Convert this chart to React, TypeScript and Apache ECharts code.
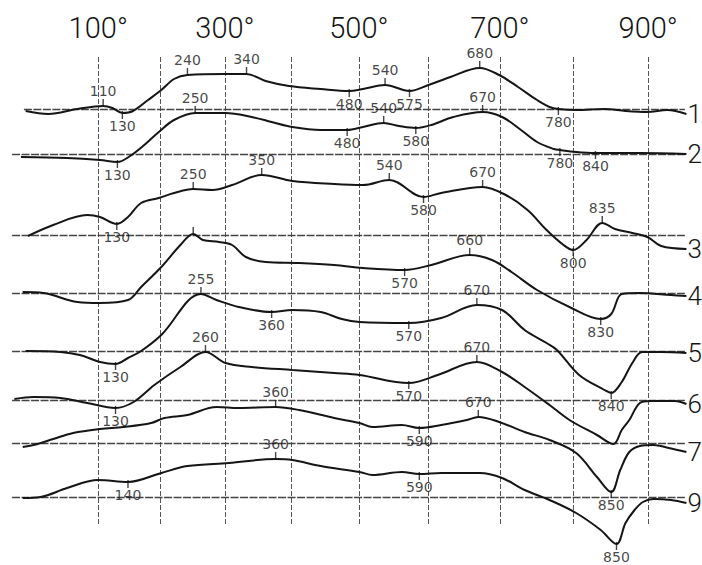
import React, { useEffect, useRef } from "react";
import * as echarts from "echarts";

// Curve numbers (written at the right end of each trace)
const curveLabels = ["1", "2", "3", "4", "5", "6", "7", "9"];
// Base level of each trace (arbitrary ΔT units, counted from the bottom)
const baselineLevels = [456, 411, 330, 272, 214, 165, 122, 68];
const baselineStarts = [-23, -43, -43, -43, -43, -43, -43, -43];
const baselineEnd = 948;
// Temperature grid (°C) and the labelled ones
const gridTemps = [100, 200, 300, 400, 500, 600, 700, 800, 900];
const tickLabelTemps = [100, 300, 500, 700, 900];
const gridTopLevel = 508;
const gridBottomLevel = 40;

// [temperature °C, deflection]
const curve1 = [[-20,-2],[18,-5],[66,0],[108,3],[123,1],[139,-4],[156,-2],[180,9],[201,19],[221,30],[242,34],[301,35],[333,35],[362,28],[397,23],[444,20],[486,18],[506,20],[538,24],[573,18],[600,24],[631,32],[672,41],[699,34],[725,22],[751,9],[768,2],[780,0],[804,-1],[842,0],[870,-2],[899,-3],[925,-1],[950,-5]];
const curve2 = [[-28,-3],[49,-4],[103,-6],[131,-8],[149,-3],[174,9],[197,22],[221,34],[254,41],[301,41],[341,37],[371,32],[402,27],[444,24],[483,24],[506,27],[536,31],[558,28],[582,26],[604,29],[635,37],[676,42],[703,37],[729,24],[751,12],[774,5],[782,4],[804,2],[830,1],[889,1],[950,0]];
const curve3 = [[-16,-1],[26,10],[82,20],[103,18],[130,11],[148,18],[169,32],[197,37],[221,42],[251,46],[281,45],[311,50],[356,60],[402,54],[464,51],[506,50],[544,55],[593,38],[618,42],[676,48],[708,40],[738,25],[764,5],[787,-10],[800,-15],[818,-5],[839,12],[856,6],[879,2],[899,-2],[917,-11],[950,-14]];
const curve4 = [[-25,1],[10,0],[66,-9],[103,-10],[148,-7],[169,6],[201,26],[231,48],[251,59],[266,53],[291,51],[311,48],[332,36],[362,31],[412,30],[464,28],[506,25],[566,23],[604,28],[658,38],[689,33],[716,21],[751,3],[795,-14],[837,-26],[851,-21],[865,-1],[889,0],[930,-2],[950,-3]];
const curve5 = [[-20,0],[38,-1],[70,-4],[103,-11],[128,-13],[148,-7],[169,0],[201,16],[263,57],[287,51],[321,44],[371,39],[402,41],[444,39],[475,32],[501,29],[572,28],[618,33],[668,46],[703,41],[734,21],[764,8],[778,1],[808,-24],[842,-39],[851,-42],[865,-31],[879,-12],[892,-1],[917,-1],[950,-2]];
const curve6 = [[-39,1],[-7,3],[38,2],[82,-3],[128,-8],[157,-2],[190,15],[231,33],[270,48],[301,37],[341,33],[402,30],[464,27],[501,25],[572,17],[613,25],[668,38],[703,28],[734,13],[768,-5],[795,-20],[832,-35],[854,-44],[865,-30],[875,-20],[889,-3],[903,-1],[935,-1],[950,-4]];
const curve7 = [[-25,-4],[0,-1],[26,4],[59,10],[103,14],[141,16],[185,20],[206,25],[242,28],[287,36],[321,35],[377,36],[412,33],[464,25],[501,20],[520,16],[562,18],[587,15],[618,18],[654,23],[670,26],[699,21],[734,11],[768,3],[804,-10],[832,-34],[851,-49],[863,-27],[875,-9],[889,-3],[907,-2],[927,-5],[950,-9]];
const curve8 = [[-25,-1],[5,0],[49,9],[100,17],[148,15],[201,24],[242,31],[306,34],[377,38],[402,37],[444,31],[501,25],[520,22],[562,25],[587,23],[618,24],[672,24],[703,19],[734,7],[768,-3],[804,-16],[837,-33],[858,-47],[870,-26],[882,-13],[893,-5],[907,-2],[930,-3],[950,-6]];

// [temperature where the tick sits, written text, 1 = above / -1 = below]
const markers1 = [[108,"110",1],[139,"130",-1],[242,"240",1],[333,"340",1],[486,"480",-1],[538,"540",1],[573,"575",-1],[672,"680",1],[780,"780",-1]];
const markers2 = [[131,"130",-1],[254,"250",1],[483,"480",-1],[536,"540",1],[582,"580",-1],[676,"670",1],[782,"780",-1],[830,"840",-1]];
const markers3 = [[130,"130",-1],[251,"250",1],[356,"350",1],[544,"540",1],[593,"580",-1],[676,"670",1],[800,"800",-1],[839,"835",1]];
const markers4 = [[251,"",1],[566,"570",-1],[658,"660",1],[837,"830",-1]];
const markers5 = [[128,"130",-1],[263,"255",1],[371,"360",-1],[572,"570",-1],[668,"670",1],[851,"840",-1]];
const markers6 = [[128,"130",-1],[270,"260",1],[572,"570",-1],[668,"670",1]];
const markers7 = [[377,"360",1],[587,"590",-1],[670,"670",1],[851,"850",-1]];
const markers8 = [[148,"140",-1],[377,"360",1],[587,"590",-1],[858,"850",-1]];

const curves = [curve1, curve2, curve3, curve4, curve5, curve6, curve7, curve8];
const markers = [markers1, markers2, markers3, markers4, markers5, markers6, markers7, markers8];

// The recorder's temperature scale is slightly non-linear (quadratic).
const K = 0.0001506;
const toU = (t: number) => t + K * t * t;
const fromU = (u: number) => (-1 + Math.sqrt(1 + 4 * K * u)) / (2 * K);

const interp = (c: number[][], t: number) => {
  for (let i = 0; i < c.length - 1; i++) {
    if (t >= c[i][0] && t <= c[i + 1][0]) {
      const f = (t - c[i][0]) / (c[i + 1][0] - c[i][0]);
      return c[i][1] + f * (c[i + 1][1] - c[i][1]);
    }
  }
  return c[c.length - 1][1];
};

const INK = "#151515";
const THIN = "Roboto, 'Liberation Sans', sans-serif";

function buildOption() {
  const series: any[] = [];

  series.push({
    type: "lines",
    coordinateSystem: "cartesian2d",
    silent: true,
    lineStyle: { color: "#555", width: 1, type: [5, 2], opacity: 1 },
    data: gridTemps.map((t) => ({ coords: [[toU(t), gridTopLevel], [toU(t), gridBottomLevel]] })),
  });
  series.push({
    type: "lines",
    coordinateSystem: "cartesian2d",
    silent: true,
    lineStyle: { color: "#444", width: 1.3, type: [8, 1.5], opacity: 1 },
    data: baselineLevels.map((lv, i) => ({ coords: [[toU(baselineStarts[i]), lv], [toU(baselineEnd), lv]] })),
  });

  curves.forEach((c, i) => {
    const lv = baselineLevels[i];
    series.push({
      type: "line",
      name: curveLabels[i],
      data: c.map(([t, d]) => [toU(t), lv + d]),
      showSymbol: false,
      smooth: 0.35,
      lineStyle: { color: INK, width: 2 },
      endLabel: {
        show: true,
        formatter: curveLabels[i],
        fontSize: 26,
        fontWeight: 300,
        color: INK,
        fontFamily: THIN,
        distance: 1,
      },
      z: 3,
    });
    series.push({
      type: "scatter",
      symbol: "rect",
      symbolSize: [1.4, 8],
      itemStyle: { color: INK },
      z: 4,
      data: markers[i].map(([t, txt, side]: any) => ({
        value: [toU(t), lv + interp(c, t)],
        symbolOffset: [0, side > 0 ? -3 : 2],
        label: {
          show: txt !== "",
          formatter: txt,
          position: side > 0 ? "top" : "bottom",
          distance: side > 0 ? 1 : 0,
          lineHeight: 14,
          fontSize: 14,
          color: INK,
          fontFamily: "'DejaVu Sans', sans-serif",
        },
      })),
    });
  });

  return {
    animation: false,
    backgroundColor: "#ffffff",
    grid: { left: 0, right: 0, top: 0, bottom: 0 },
    xAxis: {
      type: "value",
      position: "top",
      min: -62.9,
      max: 1112,
      axisLine: { show: false },
      axisTick: { show: false },
      splitLine: { show: false },
      axisLabel: {
        inside: true,
        margin: 13,
        customValues: tickLabelTemps.map(toU),
        formatter: (v: number) => Math.round(fromU(v) / 100) * 100 + "°",
        fontSize: 29,
        fontWeight: 300,
        color: INK,
        fontFamily: THIN,
      },
    },
    yAxis: { type: "value", min: 0, max: 565, show: false },
    series,
  };
}

export default function App() {
  const ref = useRef<HTMLDivElement>(null);
  useEffect(() => {
    const chart = echarts.init(ref.current!, null, { renderer: "svg" });
    chart.setOption(buildOption() as any);
    return () => chart.dispose();
  }, []);
  return (
    <div
      ref={ref}
      style={{ position: "fixed", left: 0, top: 0, width: 702, height: 565, background: "#fff" }}
    />
  );
}
